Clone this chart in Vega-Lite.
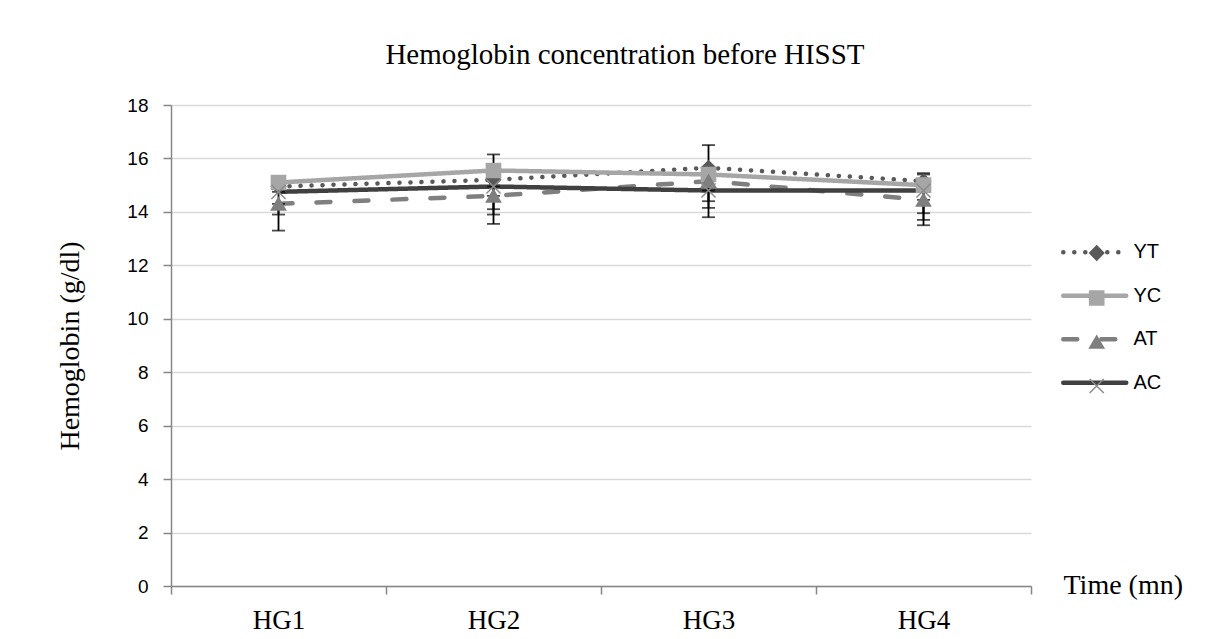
{
  "$schema": "https://vega.github.io/schema/vega-lite/v6.json",
  "width": 860,
  "height": 481,
  "autosize": {"type": "none"},
  "padding": {"left": 171, "top": 105, "right": 175, "bottom": 53},
  "background": "white",
  "title": {
    "text": "Hemoglobin concentration before HISST",
    "font": "Liberation Serif",
    "fontSize": 29,
    "fontWeight": "normal",
    "color": "#000000",
    "anchor": "middle",
    "dx": 24,
    "baseline": "alphabetic",
    "offset": 3
  },
  "config": {"view": {"stroke": null}},
  "datasets": {
    "means": [
      {"g": "HG1", "s": "YT", "m": "YT", "v": 14.95},
      {"g": "HG2", "s": "YT", "m": "YT", "v": 15.2},
      {"g": "HG3", "s": "YT", "m": "YT", "v": 15.65},
      {"g": "HG4", "s": "YT", "m": "YT", "v": 15.15},
      {"g": "HG1", "s": "YC", "m": "YC", "v": 15.1},
      {"g": "HG2", "s": "YC", "m": "YC", "v": 15.55},
      {"g": "HG3", "s": "YC", "m": "YC", "v": 15.4},
      {"g": "HG4", "s": "YC", "m": "YC", "v": 15.0},
      {"g": "HG1", "s": "AT", "m": "AT", "v": 14.3},
      {"g": "HG2", "s": "AT", "m": "AT", "v": 14.6},
      {"g": "HG3", "s": "AT", "m": "AT", "v": 15.15},
      {"g": "HG4", "s": "AT", "m": "AT", "v": 14.45},
      {"g": "HG1", "s": "AC", "m": "AC", "v": 14.75},
      {"g": "HG2", "s": "AC", "m": "AC", "v": 14.95},
      {"g": "HG3", "s": "AC", "m": "AC", "v": 14.8},
      {"g": "HG4", "s": "AC", "m": "AC", "v": 14.8}
    ],
    "errs": [
      {"g": "HG1", "lo": 13.3, "hi": 14.3},
      {"g": "HG1", "lo": 13.9, "hi": 14.75},
      {"g": "HG2", "lo": 15.55, "hi": 16.15},
      {"g": "HG2", "lo": 13.55, "hi": 14.6},
      {"g": "HG2", "lo": 13.9, "hi": 15.2},
      {"g": "HG2", "lo": 14.1, "hi": 14.95},
      {"g": "HG3", "lo": 15.65, "hi": 16.5},
      {"g": "HG3", "lo": 14.4, "hi": 15.15},
      {"g": "HG3", "lo": 14.15, "hi": 14.8},
      {"g": "HG3", "lo": 13.8, "hi": 15.4},
      {"g": "HG4", "lo": 15.15, "hi": 15.45},
      {"g": "HG4", "lo": 15.0, "hi": 15.4},
      {"g": "HG4", "lo": 13.5, "hi": 14.45},
      {"g": "HG4", "lo": 13.7, "hi": 15.15},
      {"g": "HG4", "lo": 13.95, "hi": 14.8}
    ]
  },
  "layer": [
    {
      "data": {"name": "means"},
      "mark": {"type": "line", "strokeWidth": 4.5, "strokeCap": "round", "strokeJoin": "round"},
      "encoding": {
        "x": {
          "field": "g",
          "type": "nominal",
          "bandPosition": 0.5,
          "scale": {"type": "band", "paddingInner": 0, "paddingOuter": 0},
          "axis": {
            "title": "Time (mn)",
            "titleFont": "Liberation Serif",
            "titleFontSize": 28,
            "titleFontWeight": "normal",
            "titleColor": "#000000",
            "titleX": 892,
            "titleY": 7,
            "titleAlign": "left",
            "titleBaseline": "alphabetic",
            "labelFont": "Liberation Serif",
            "labelFontSize": 27,
            "labelColor": "#000000",
            "labelAngle": 0,
            "labelPadding": 13,
            "tickBand": "extent",
            "tickSize": 8,
            "tickColor": "#868686",
            "tickWidth": 1.5,
            "domainColor": "#868686",
            "domainWidth": 1.5,
            "grid": false
          }
        },
        "y": {
          "field": "v",
          "type": "quantitative",
          "title": "Hemoglobin (g/dl)",
          "scale": {"domain": [0, 18], "nice": false},
          "axis": {
            "title": "Hemoglobin (g/dl)",
            "titleFont": "Liberation Serif",
            "titleFontSize": 28,
            "titleFontWeight": "normal",
            "titleColor": "#000000",
            "titleAngle": -90,
            "titleX": -93,
            "titleY": 240.5,
            "titleAlign": "center",
            "titleBaseline": "alphabetic",
            "values": [0, 2, 4, 6, 8, 10, 12, 14, 16, 18],
            "labelFont": "Liberation Sans",
            "labelFontSize": 19,
            "labelColor": "#000000",
            "labelPadding": 15,
            "tickSize": 8,
            "tickColor": "#868686",
            "tickWidth": 1.5,
            "domainColor": "#868686",
            "domainWidth": 1.5,
            "grid": true,
            "gridColor": "#d9d9d9",
            "gridWidth": 1.5
          }
        },
        "color": {
          "field": "s",
          "type": "nominal",
          "scale": {"domain": ["AC", "AT", "YC", "YT"], "range": ["#404040", "#7f7f7f", "#a6a6a6", "#595959"]},
          "legend": null
        },
        "strokeDash": {
          "field": "s",
          "type": "nominal",
          "scale": {"domain": ["YT", "YC", "AT", "AC"], "range": [[0.1, 10.9], [1, 0], [14, 24], [1, 0]]},
          "legend": {
            "title": null,
            "orient": "none",
            "legendX": 910.75,
            "legendY": 134.25,
            "padding": 0,
            "symbolType": "M-3,0H3",
            "symbolSize": 441,
            "symbolStrokeWidth": 4.5,
            "labelFont": "Liberation Sans",
            "labelFontSize": 20,
            "labelColor": "#000000",
            "labelOffset": 25.75,
            "rowPadding": 20.5,
            "encode": {
              "symbols": {
                "update": {
                  "stroke": {"scale": "color", "field": "value"},
                  "strokeCap": {"value": "round"}
                }
              }
            }
          }
        }
      }
    },
    {
      "data": {"name": "errs"},
      "mark": {
        "type": "errorbar",
        "ticks": {"size": 13, "color": "#000000", "thickness": 1.8},
        "rule": {"color": "#000000", "strokeWidth": 1.8}
      },
      "encoding": {
        "x": {"field": "g", "type": "nominal", "bandPosition": 0.5},
        "y": {"field": "lo", "type": "quantitative", "title": "Hemoglobin (g/dl)"},
        "y2": {"field": "hi"}
      }
    },
    {
      "data": {"name": "means"},
      "mark": {"type": "point", "filled": true, "opacity": 1, "size": 200, "strokeWidth": 1.5},
      "encoding": {
        "x": {"field": "g", "type": "nominal", "bandPosition": 0.5},
        "y": {"field": "v", "type": "quantitative", "title": "Hemoglobin (g/dl)"},
        "fill": {
          "field": "m",
          "type": "nominal",
          "scale": {"domain": ["YC", "YT", "AT", "AC"], "range": ["#a6a6a6", "#595959", "#7f7f7f", "#8c8c8c"]}
        },
        "stroke": {
          "field": "m",
          "type": "nominal",
          "scale": {"domain": ["YC", "YT", "AT", "AC"], "range": ["#a6a6a6", "#595959", "#7f7f7f", "#8c8c8c"]}
        },
        "shape": {
          "field": "m",
          "type": "nominal",
          "scale": {"domain": ["YC", "YT", "AT", "AC"], "range": ["square", "diamond", "triangle-up", "M-1,-1L1,1M-1,1L1,-1"]},
          "legend": {
            "title": null,
            "orient": "none",
            "values": ["YT", "YC", "AT", "AC"],
            "legendX": 915.7,
            "legendY": 138,
            "padding": 0,
            "symbolSize": 200,
            "symbolStrokeWidth": 1.5,
            "labelFontSize": 20,
            "labelExpr": "''",
            "rowPadding": 23
          }
        }
      }
    }
  ]
}
